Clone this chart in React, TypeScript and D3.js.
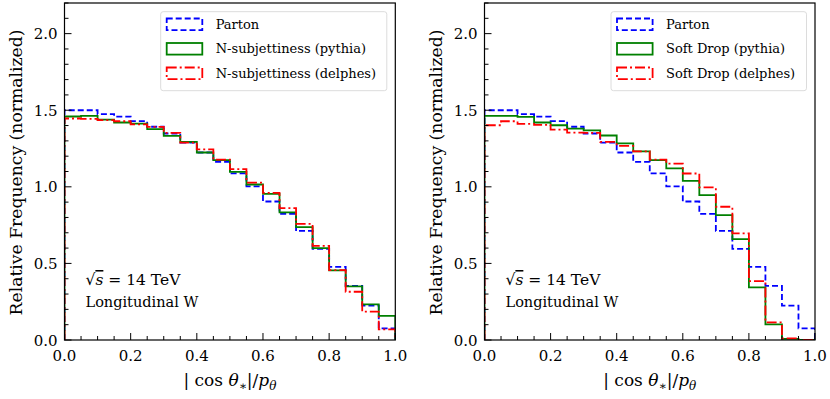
import { useEffect, useRef } from "react"
import * as d3 from "d3"

// bin edges of the histograms (20 bins on [0, 1])
const binEdges = [0, 0.05, 0.1, 0.15, 0.2, 0.25, 0.3, 0.35, 0.4, 0.45, 0.5, 0.55, 0.6, 0.65, 0.7, 0.75, 0.8, 0.85, 0.9, 0.95, 1.0]

const parton = [1.50, 1.50, 1.475, 1.458, 1.429, 1.392, 1.348, 1.288, 1.224, 1.163, 1.088, 1.003, 0.904, 0.824, 0.712, 0.595, 0.478, 0.353, 0.225, 0.076]
const nsubPythia = [1.459, 1.463, 1.439, 1.420, 1.413, 1.376, 1.332, 1.293, 1.224, 1.174, 1.098, 1.015, 0.954, 0.833, 0.737, 0.600, 0.454, 0.350, 0.233, 0.158]
const nsubDelphes = [1.446, 1.443, 1.435, 1.428, 1.407, 1.391, 1.352, 1.289, 1.245, 1.178, 1.115, 1.028, 0.961, 0.861, 0.758, 0.615, 0.456, 0.315, 0.185, 0.070]
const sdPythia = [1.463, 1.463, 1.456, 1.420, 1.402, 1.380, 1.369, 1.335, 1.283, 1.232, 1.174, 1.120, 1.039, 0.946, 0.815, 0.659, 0.344, 0.102, 0.007, 0.0]
const sdDelphes = [1.402, 1.428, 1.411, 1.404, 1.374, 1.354, 1.352, 1.293, 1.267, 1.232, 1.178, 1.152, 1.087, 0.996, 0.870, 0.696, 0.385, 0.115, 0.011, 0.0]

const xTicks = [0, 0.2, 0.4, 0.6, 0.8, 1.0]
const yTicks = [0, 0.5, 1.0, 1.5, 2.0]
const leftLabels = ["Parton", "N-subjettiness (pythia)", "N-subjettiness (delphes)"]
const rightLabels = ["Parton", "Soft Drop (pythia)", "Soft Drop (delphes)"]

const W = 830
const H = 399
const FONT = "DejaVu Serif, serif"

const styles = [
  { color: "#0000ff", dash: "6,3" },
  { color: "#008000", dash: null },
  { color: "#ff0000", dash: "10,3,2,3" },
]

const panels = [
  { left: 64.5, right: 395.3, legendX: 160.7, series: [parton, nsubPythia, nsubDelphes], labels: leftLabels },
  { left: 484.5, right: 815, legendX: 611, series: [parton, sdPythia, sdDelphes], labels: rightLabels },
]

const App = () => {
  const svgRef = useRef<SVGSVGElement>(null)

  useEffect(() => {
    const svgEl = d3.select(svgRef.current)
    svgEl.selectAll("*").remove()
    const top = 3
    const bottom = 340

    const txt = (sel: any, size: number) =>
      sel.style("font-family", FONT).style("font-size", `${size}px`).attr("fill", "#000")

    panels.forEach((p, pi) => {
      const x = d3.scaleLinear().domain([0, 1]).range([p.left, p.right])
      const y = d3.scaleLinear().domain([0, 2.2]).range([bottom, top])
      const g = svgEl.append("g")

      const clipId = `clip${pi}`
      g.append("clipPath").attr("id", clipId)
        .append("rect")
        .attr("x", p.left).attr("y", top)
        .attr("width", p.right - p.left).attr("height", bottom - top)

      // step histograms
      const step = d3.line<[number, number]>()
        .x((d) => x(d[0]))
        .y((d) => y(d[1]))
        .curve(d3.curveStepAfter)
      p.series.forEach((vals, si) => {
        const pts: [number, number][] = [[binEdges[0], 0]]
        vals.forEach((v, i) => pts.push([binEdges[i], v]))
        pts.push([binEdges[binEdges.length - 1], vals[vals.length - 1]])
        pts.push([binEdges[binEdges.length - 1], 0])
        g.append("path")
          .attr("d", step(pts))
          .attr("fill", "none")
          .attr("stroke", styles[si].color)
          .attr("stroke-width", 1.8)
          .attr("stroke-dasharray", styles[si].dash)
          .attr("clip-path", `url(#${clipId})`)
      })

      // ticks (inward, left and bottom only)
      const yMinor = d3.range(0, 2.2001, 0.1)
      yMinor.forEach((t) => {
        const major = yTicks.some((m) => Math.abs(m - t) < 1e-6)
        g.append("line")
          .attr("x1", p.left).attr("x2", p.left + (major ? 7 : 4))
          .attr("y1", y(t)).attr("y2", y(t))
          .attr("stroke", "#000").attr("stroke-width", 1)
      })
      const xMinor = d3.range(0, 1.0001, 0.05)
      xMinor.forEach((t) => {
        const major = xTicks.some((m) => Math.abs(m - t) < 1e-6)
        g.append("line")
          .attr("x1", x(t)).attr("x2", x(t))
          .attr("y1", bottom).attr("y2", bottom - (major ? 7 : 4))
          .attr("stroke", "#000").attr("stroke-width", 1)
      })

      yTicks.forEach((t) => {
        txt(g.append("text"), 15)
          .attr("x", p.left - 7).attr("y", y(t) + 5.5)
          .attr("text-anchor", "end")
          .text(t.toFixed(1))
      })
      xTicks.forEach((t) => {
        txt(g.append("text"), 15)
          .attr("x", x(t)).attr("y", 361)
          .attr("text-anchor", "middle")
          .text(t.toFixed(1))
      })

      // frame
      g.append("rect")
        .attr("x", p.left).attr("y", top)
        .attr("width", p.right - p.left).attr("height", bottom - top)
        .attr("fill", "none").attr("stroke", "#000").attr("stroke-width", 1.2)

      // axis labels
      txt(g.append("text"), 17.2)
        .attr("transform", `translate(${p.left - 43}, ${(top + bottom) / 2 + 1}) rotate(-90)`)
        .attr("text-anchor", "middle")
        .text("Relative Frequency (normalized)")

      const xl = txt(g.append("text"), 17)
        .attr("x", (p.left + p.right) / 2).attr("y", 386)
        .attr("text-anchor", "middle")
      xl.append("tspan").text("| cos ")
      xl.append("tspan").style("font-style", "italic").text("θ")
      xl.append("tspan").style("font-size", "12px").attr("dy", 4).text("∗")
      xl.append("tspan").attr("dy", -4).text("|/")
      xl.append("tspan").style("font-style", "italic").text("p")
      xl.append("tspan").style("font-size", "12px").style("font-style", "italic").attr("dy", 4).text("θ")

      // annotation
      const ann = txt(g.append("text"), 15.5)
        .attr("x", p.left + 21).attr("y", 285)
      ann.append("tspan").text("√")
      ann.append("tspan").style("font-style", "italic").style("text-decoration", "overline").text("s")
      ann.append("tspan").text(" = 14 TeV")
      txt(g.append("text"), 14.5)
        .attr("x", p.left + 21).attr("y", 307)
        .text("Longitudinal W")

      // legend
      const lx = p.legendX
      const lRight = p.right - 8.5
      g.append("rect")
        .attr("x", lx).attr("y", 11.7)
        .attr("width", lRight - lx).attr("height", 79)
        .attr("rx", 2.5)
        .attr("fill", "#fff").attr("fill-opacity", 0.8)
        .attr("stroke", "#dcdcdc").attr("stroke-width", 1)
      p.labels.forEach((lab, i) => {
        const cy = 24.3 + i * 24.5
        g.append("rect")
          .attr("x", lx + 6).attr("y", cy - 5.8)
          .attr("width", 35.6).attr("height", 11.6)
          .attr("fill", "none")
          .attr("stroke", styles[i].color)
          .attr("stroke-width", 1.8)
          .attr("stroke-dasharray", styles[i].dash)
        txt(g.append("text"), 13)
          .attr("x", lx + 55).attr("y", cy + 4.5)
          .text(lab)
      })
    })
  }, [])

  return (
    <svg
      ref={svgRef}
      width={W}
      height={H}
      viewBox={`0 0 ${W} ${H}`}
      style={{ position: "absolute", left: 0, top: 0, background: "#fff" }}
    />
  )
}

export default App
